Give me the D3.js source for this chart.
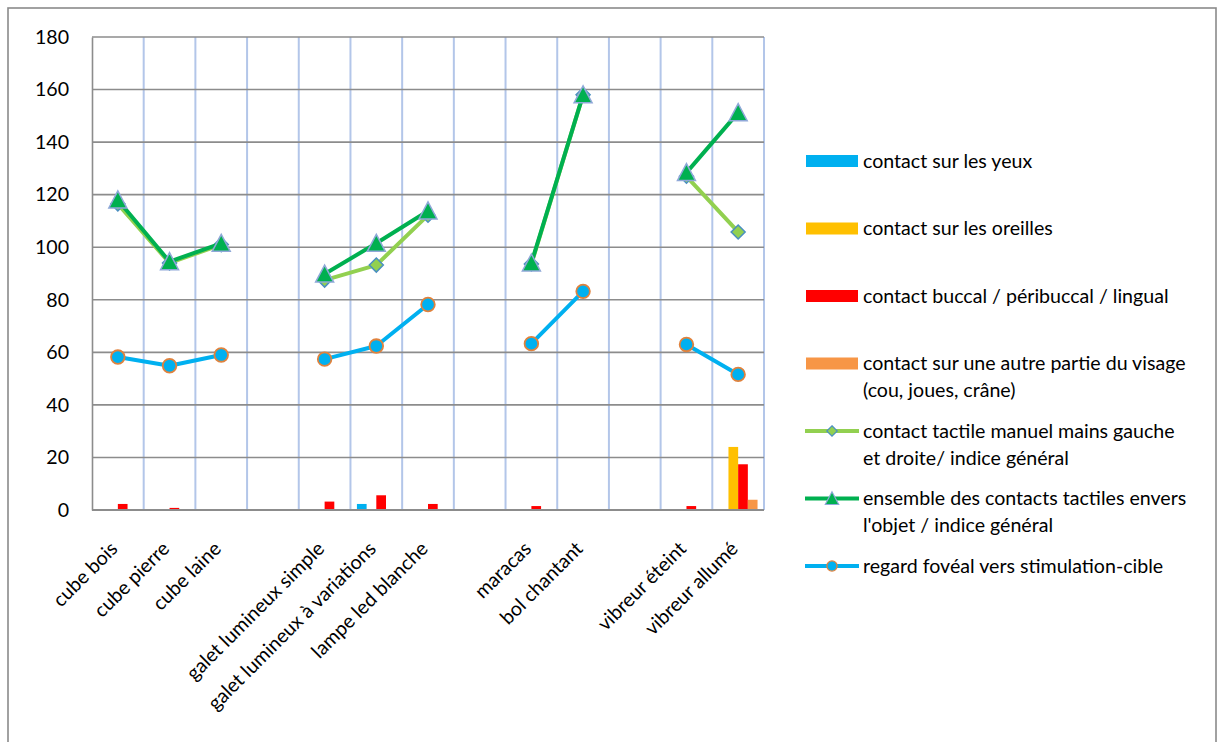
<!DOCTYPE html>
<html><head><meta charset="utf-8">
<script src="https://cdn.jsdelivr.net/npm/d3@7/dist/d3.min.js"></script>
<style>html,body{margin:0;padding:0;background:#fff;}svg{display:block;}</style>
</head><body>
<svg id="chart" width="1217" height="742"></svg>
<script>
const categories = ["cube bois","cube pierre","cube laine","","galet lumineux simple","galet lumineux à variations","lampe led blanche","","maracas","bol chantant","","vibreur éteint","vibreur allumé"];
const yTicks = [0,20,40,60,80,100,120,140,160,180];

const barSeriesNames = ["contact sur les yeux","contact sur les oreilles","contact buccal / péribuccal / lingual","contact sur une autre partie du visage (cou, joues, crâne)"];
const contactYeux     = [0,0,0,null,0,2.3,0,null,0,0,null,0,0];
const contactOreilles = [0,0,0,null,0,0,0,null,0,0,null,0,24];
const contactBuccal   = [2.3,0.8,0,null,3.2,5.6,2.3,null,1.5,0,null,1.5,17.4];
const contactAutre    = [0,0,0,null,0,0,0,null,0,0,null,0,3.9];

const lineSeriesNames = ["contact tactile manuel mains gauche et droite/ indice général","ensemble des contacts tactiles envers l'objet / indice général","regard fovéal vers stimulation-cible"];
const tactileManuel = [116.5,94,101,null,87.5,93.2,112.2,null,93.6,158,null,127,105.8];
const ensembleTactile = [118,94.5,101.5,null,89.8,101.5,113.8,null,94,158,null,128.4,151.2];
const regardFoveal = [58.2,54.9,59,null,57.4,62.4,78.2,null,63.3,83.2,null,63,51.6];

const FONT = "Lato, 'Open Sans', sans-serif";
const FS = 19.6;

const svg = d3.select("#chart");
const plot = {left:92, right:764, top:37, bottom:510};

// outer frame
svg.append("rect").attr("x",8).attr("y",8).attr("width",1208).attr("height",760)
  .attr("fill","none").attr("stroke","#8a8a8a").attr("stroke-width",1.6);

const idx = d3.range(categories.length);
const x = d3.scaleBand().domain(idx).range([plot.left, plot.right]).padding(0);
const y = d3.scaleLinear().domain([0,180]).range([plot.bottom, plot.top]);

// vertical gridlines (light blue)
const vlines = d3.range(categories.length+1).map(i => plot.left + i*x.step());
svg.append("g").selectAll("line").data(vlines.slice(1)).join("line")
  .attr("x1",d=>d).attr("x2",d=>d).attr("y1",plot.top).attr("y2",plot.bottom)
  .attr("stroke","#b3c6e9").attr("stroke-width",2);

// horizontal gridlines (gray)
svg.append("g").selectAll("line").data(yTicks).join("line")
  .attr("x1",plot.left).attr("x2",plot.right).attr("y1",d=>y(d)).attr("y2",d=>y(d))
  .attr("stroke","#8c8c8c").attr("stroke-width",1.6);

// y axis
const yAxis = d3.axisLeft(y).tickValues(yTicks).tickSize(0).tickPadding(23);
const gy = svg.append("g").attr("transform",`translate(${plot.left},0)`).call(yAxis);
gy.select(".domain").attr("stroke","#8c8c8c").attr("stroke-width",1.6);
gy.selectAll("text").attr("font-family",FONT).attr("font-size",FS).attr("fill","#000");

// bars
const barData = [contactYeux, contactOreilles, contactBuccal, contactAutre];
const barColors = ["#00b0f0","#ffc000","#ff0000","#f79646"];
const groupW = x.bandwidth()*0.75;
const x1 = d3.scaleBand().domain(d3.range(4)).range([0, groupW]).padding(0);
barData.forEach((arr, s) => {
  svg.append("g").selectAll("rect")
    .data(arr.map((v,i)=>({v,i})).filter(d=>d.v))
    .join("rect")
    .attr("x",d=>x(d.i) + (x.bandwidth()-groupW)/2 + x1(s))
    .attr("width",x1.bandwidth())
    .attr("y",d=>y(d.v))
    .attr("height",d=>y(0)-y(d.v))
    .attr("fill",barColors[s]);
});

// bottom axis line
svg.append("line").attr("x1",plot.left).attr("x2",plot.right).attr("y1",plot.bottom).attr("y2",plot.bottom)
  .attr("stroke","#8c8c8c").attr("stroke-width",1.8);

// lines
const cx = i => x(i) + x.bandwidth()/2;
const lineGen = d3.line().defined(d=>d.v!=null).x(d=>cx(d.i)).y(d=>y(d.v));
const lineData = [tactileManuel, ensembleTactile, regardFoveal];
const lineColors = ["#92d050","#00b050","#00b0f0"];
const markerTypes = ["diamond","triangle","circle"];

function drawMarker(g, type, px, py){
  if(type==="diamond"){
    const r=7;
    g.append("path").attr("d",`M${px},${py-r}L${px+r},${py}L${px},${py+r}L${px-r},${py}Z`)
      .attr("fill","#92d050").attr("stroke","#4a8fc0").attr("stroke-width",1.5);
  } else if(type==="triangle"){
    const h=9, w=9;
    g.append("path").attr("d",`M${px},${py-h}L${px+w},${py+h-1}L${px-w},${py+h-1}Z`)
      .attr("fill","#00b050").attr("stroke","#8fa8d8").attr("stroke-width",1.5);
  } else {
    g.append("circle").attr("cx",px).attr("cy",py).attr("r",6.8)
      .attr("fill","#00b0f0").attr("stroke","#e0823d").attr("stroke-width",1.8);
  }
}

lineData.forEach((arr,s)=>{
  const g = svg.append("g");
  const pts = arr.map((v,i)=>({v,i}));
  g.append("path").attr("d",lineGen(pts)).attr("fill","none")
    .attr("stroke",lineColors[s]).attr("stroke-width",4).attr("stroke-linejoin","round");
  pts.filter(d=>d.v!=null).forEach(d=>drawMarker(g, markerTypes[s], cx(d.i), y(d.v)));
});

// x labels
const gx = svg.append("g");
categories.forEach((c,i)=>{
  if(!c) return;
  gx.append("text").attr("transform",`translate(${cx(i)+1},550) rotate(-45)`)
    .attr("text-anchor","end").attr("font-family",FONT).attr("font-size",FS).attr("fill","#000").text(c);
});

// legend
const legendItems = [
  {type:"bar", color:barColors[0], lines:["contact sur les yeux"]},
  {type:"bar", color:barColors[1], lines:["contact sur les oreilles"]},
  {type:"bar", color:barColors[2], lines:["contact buccal / péribuccal / lingual"]},
  {type:"bar", color:barColors[3], lines:["contact sur une autre partie du visage","(cou, joues, crâne)"]},
  {type:"line", color:lineColors[0], marker:"diamond", lines:["contact tactile manuel mains gauche","et droite/ indice général"]},
  {type:"line", color:lineColors[1], marker:"triangle", lines:["ensemble des contacts tactiles envers","l'objet / indice général"]},
  {type:"line", color:lineColors[2], marker:"circle", lines:["regard fovéal vers stimulation-cible"]},
];
const lg = svg.append("g");
legendItems.forEach((it,k)=>{
  const yy = 161 + k*67.5;
  if(it.type==="bar"){
    lg.append("rect").attr("x",806).attr("y",yy-6).attr("width",52).attr("height",12).attr("fill",it.color);
  } else {
    lg.append("line").attr("x1",805).attr("x2",859).attr("y1",yy).attr("y2",yy)
      .attr("stroke",it.color).attr("stroke-width",4);
    const mg = lg.append("g").attr("transform",`translate(832,${yy}) scale(0.75) translate(-832,${-yy})`);
    drawMarker(mg, it.marker, 832, yy);
  }
  it.lines.forEach((t,j)=>{
    lg.append("text").attr("x",863).attr("y",yy + j*27).attr("dy","0.35em")
      .attr("font-family",FONT).attr("font-size",FS).attr("fill","#000").text(t);
  });
});
</script>
</body></html>
